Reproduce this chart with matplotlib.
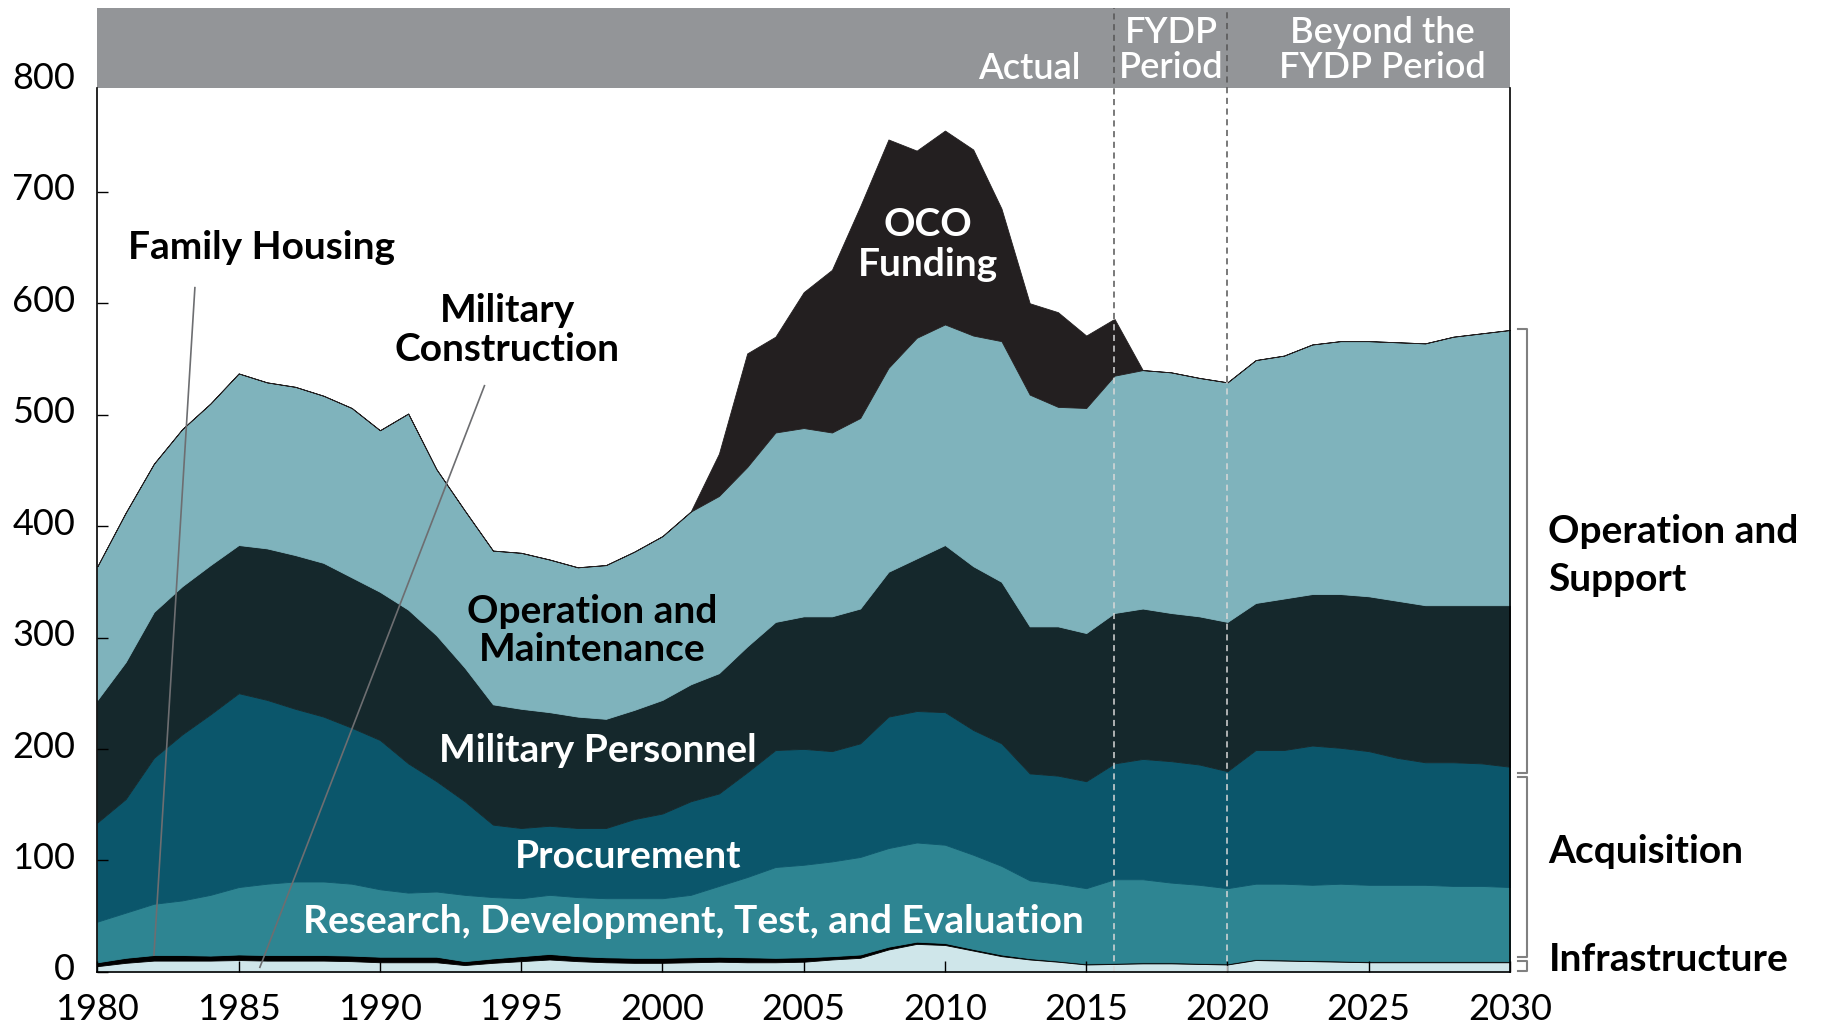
import numpy as np
import matplotlib
matplotlib.use('Agg')
import matplotlib.pyplot as plt
from matplotlib.transforms import ScaledTranslation

plt.rcParams['font.family'] = ['Lato', 'DejaVu Sans']

years = np.arange(1980, 2031)

# billions of dollars
milcon = [5, 8, 10, 10, 10, 10.5, 10, 10, 10, 9.5,
          8.5, 8.5, 8.5, 6, 8, 9.5, 11, 9.5, 8.5, 8,
          8, 8.5, 9, 8.5, 8.5, 9, 11, 12.5, 20, 25,
          24, 19, 14, 11, 9, 6.5, 7, 7.5, 7.5, 7,
          6.5, 10.5, 10, 9.5, 9, 8.5, 8.5, 8.5, 8.5, 8.5, 8.5]
family_housing = [3.5, 4.5, 5, 5, 4.5, 5, 5, 5, 5, 5,
                  5, 5, 5, 3.5, 4, 4.5, 5, 4.5, 4.5, 4.5,
                  4.5, 4.5, 4.5, 4.5, 4, 4, 3, 3, 2.5, 2,
                  1.8, 1.5, 1.5, 1.2, 1, 1, 1, 1, 1, 1,
                  1, 1, 1, 1, 1, 1, 1, 1, 1, 1, 1]
rdte = [36.5, 40.5, 46, 49, 54.5, 60.5, 64, 66, 66, 64.5,
        60.5, 57.5, 58.5, 59.5, 55, 52, 53, 53, 53, 53.5,
        53.5, 56, 63.5, 72, 81.5, 83, 85, 87.5, 88.5, 89,
        88.2, 84.5, 79.5, 69.8, 69, 67.5, 75, 74.5, 71.5, 70,
        67.5, 67.5, 68, 67.5, 69, 68.5, 68.5, 68.5, 67.5, 67.5, 66.5]
procurement = [89, 102, 131, 149, 162, 174, 165, 155, 148, 140,
               134, 116, 99, 84, 65, 63, 62, 62, 63, 71,
               76, 84, 83, 94, 105, 104, 99, 102, 118, 118,
               119, 112, 110, 96, 97, 96, 104, 108, 109, 108,
               105, 120, 120, 125, 122, 120, 114, 110, 111, 110, 108]
mil_personnel = [110, 123, 131, 133, 134, 133, 136, 138, 138, 135,
                 133, 138, 131, 120, 108, 107, 102, 100, 98, 98,
                 102, 105, 108, 113, 115, 119, 121, 121, 130, 137,
                 150, 147, 145, 132, 134, 133, 135, 135, 133, 133,
                 134, 132, 136, 136, 138, 139, 141, 141, 141, 142, 145]
om = [120, 134, 133, 141, 145, 154, 149, 151, 150, 152,
      145, 176, 149, 141, 138, 140, 137, 134, 138, 142,
      147, 155, 159, 161, 170, 169, 165, 171, 183, 198,
      198, 207, 216, 208, 197, 202, 213, 214, 216, 214,
      215, 218, 218, 224, 227, 229, 232, 235, 241, 244, 247]
oco = [0, 0, 0, 0, 0, 0, 0, 0, 0, 0,
       0, 0, 0, 0, 0, 0, 0, 0, 0, 0,
       0, 0, 38, 102, 86, 122, 146, 190, 205, 168,
       174, 167, 119, 82, 85, 65, 51, 0, 0, 0,
       0, 0, 0, 0, 0, 0, 0, 0, 0, 0, 0]

layers = [milcon, family_housing, rdte, procurement, mil_personnel, om, oco]
colors = ['#cfe6ea', '#000000', '#2e8592', '#0b566b', '#15282c', '#7fb3bc', '#231f20']

fig = plt.figure(figsize=(18.21, 10.27), dpi=100)
ax = fig.add_axes([0.0535, 0.0538, 0.7757, 0.9384])

polys = ax.stackplot(years, layers, colors=colors, linewidth=0.6)
for p, c in zip(polys, colors):
    p.set_edgecolor(c)

ax.set_xlim(1980, 2030)
ax.set_ylim(0, 865)

# header band
ax.fill_between([1980, 2030], 793, 865, color='#939598', lw=0, zorder=3)

# period dividers
total = np.sum(layers, axis=0)
for yr in [2016, 2020]:
    top = total[yr - 1980]
    ax.vlines(yr, top, 865, colors='#555555', linestyles=(0, (4, 3)), lw=1.1, zorder=4)
    ax.vlines(yr, 0, top, colors='#d8d8d8', linestyles=(0, (4, 3)), lw=1.1, zorder=4)

hdr = dict(color='white', fontsize=26, fontweight='semibold', zorder=5, linespacing=1.08)
ax.text(2014.8, 811, 'Actual', ha='right', va='center', **hdr)
ax.text(2018.0, 827, 'FYDP\nPeriod', ha='center', va='center', **hdr)
ax.text(2025.5, 827, 'Beyond the\nFYDP Period', ha='center', va='center', **hdr)

ax.spines['top'].set_visible(False)
ax.spines['left'].set_bounds(0, 793)
ax.spines['right'].set_bounds(0, 793)
for s in ['left', 'right', 'bottom']:
    ax.spines[s].set_linewidth(1.2)
    ax.spines[s].set_zorder(4)

ax.set_xticks(range(1980, 2031, 5))
ax.set_yticks(range(0, 801, 100))
ax.tick_params(axis='both', direction='in', length=8, width=1, labelsize=26)
ax.tick_params(axis='y', pad=16)
ax.tick_params(axis='x', pad=15)
lift = ScaledTranslation(0, 3.5 / 72, fig.dpi_scale_trans)
for t in ax.get_yticklabels():
    t.set_transform(t.get_transform() + lift)

# layer labels
lab = dict(fontsize=28, fontweight='bold', ha='center', va='center', zorder=5, linespacing=1.11)
ax.text(1985.8, 650, 'Family Housing', color='black', **lab)
ax.text(1994.5, 576, 'Military\nConstruction', color='black', **lab)
ax.text(2009.4, 653, 'OCO\nFunding', color='white', fontsize=28, fontweight='bold',
        ha='center', va='center', zorder=5, linespacing=1.18)
ax.text(1997.5, 306, 'Operation and\nMaintenance', color='black', **lab)
ax.text(1997.7, 199, 'Military Personnel', color='white', **lab)
ax.text(1998.8, 103, 'Procurement', color='white', **lab)
ax.text(2001.1, 45, 'Research, Development, Test, and Evaluation', color='white', **lab)

# leader lines
ax.plot([1983.45, 1982.0], [614, 15], color='#6d6e71', lw=1.2, zorder=5)
ax.plot([1993.7, 1985.75], [526, 4], color='#6d6e71', lw=1.2, zorder=5)

# right-hand brackets
for lo, hi in [(178, 577), (13, 175), (1, 10)]:
    ax.plot([2030.3, 2030.62, 2030.62, 2030.3], [hi, hi, lo, lo],
            color='#808080', lw=1.5, clip_on=False)
side = dict(fontsize=28, fontweight='bold', ha='left', va='center', linespacing=1.45)
ax.text(2031.36, 374, 'Operation and\nSupport', **side)
ax.text(2031.36, 108, 'Acquisition', **side)
ax.text(2031.36, 11, 'Infrastructure', **side)

fig.savefig('out.png', dpi=100)
